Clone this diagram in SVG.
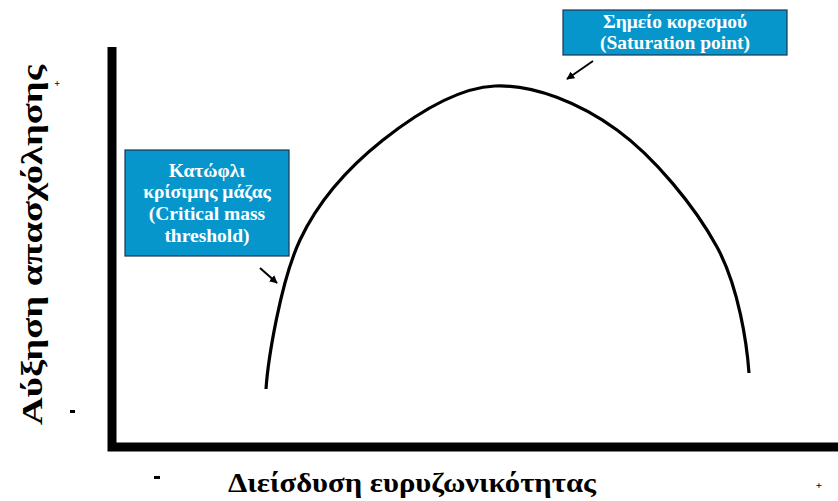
<svg xmlns="http://www.w3.org/2000/svg" width="838" height="501" viewBox="0 0 838 501">
<style>
.box{fill:#0796cc;stroke:#1b3550;stroke-width:1.2}
.bt{font-weight:bold;font-size:19.5px;fill:#ffffff;text-anchor:middle}
.lab{font-weight:bold;fill:#000;text-anchor:middle}
.axis{stroke:#000;stroke-width:9;fill:none}
.arr{stroke:#000;stroke-width:2;fill:none;marker-end:url(#ah)}
</style>
<defs>
<marker id="ah" viewBox="0 0 10 10" refX="9" refY="5" markerWidth="4" markerHeight="4" orient="auto" markerUnits="strokeWidth">
<path d="M0,0 L10,5 L0,10 z" fill="#000"/>
</marker>
</defs>
<rect width="838" height="501" fill="#fff"/>
<g id="axes">
<path class="axis" d="M112,47 V447 H838"/>
</g>
<g id="curve">
<path d="M266,389 C268,360 280.5,281.5 300,240 C319.5,198.5 350.5,165.7 383,140 C415.5,114.3 456,87.7 495,86 C534,84.3 580,103.2 617,130 C654,156.8 695,206.5 717,247 C739,287.5 747,345 749,373" fill="none" stroke="#000" stroke-width="3.2"/>
</g>
<g font-family="Times New Roman, Liberation Serif, DejaVu Serif, serif">
<g id="saturation">
<rect class="box" x="563" y="10" width="224" height="45"/>
<text class="bt" x="675" y="28">Σημείο κορεσμού</text>
<text class="bt" x="675" y="49">(Saturation point)</text>
</g>
<g id="critical">
<rect class="box" x="125" y="150" width="164" height="106"/>
<text class="bt" x="207" y="177">Κατώφλι</text>
<text class="bt" x="207" y="198">κρίσιμης μάζας</text>
<text class="bt" x="207" y="220">(Critical mass</text>
<text class="bt" x="207" y="242">threshold)</text>
</g>
<g id="connectors">
<line class="arr" x1="593" y1="61" x2="567" y2="79"/>
<line class="arr" x1="260" y1="268" x2="277" y2="283"/>
</g>
<g id="labels">
<text class="lab" font-size="28" x="412" y="492" textLength="368" lengthAdjust="spacingAndGlyphs">Διείσδυση ευρυζωνικότητας</text>
<text class="lab" font-size="29" transform="translate(42,245) rotate(-90)" x="0" y="0" textLength="360" lengthAdjust="spacingAndGlyphs">Αύξηση απασχόλησης</text>
<rect x="154" y="476" width="6" height="3" fill="#000"/>
<rect x="70" y="410" width="5" height="3" fill="#000"/>
<text class="lab" font-size="11" x="819" y="489">+</text>
<text class="lab" font-size="10" x="57" y="87">+</text>
</g>
</g>
</svg>
